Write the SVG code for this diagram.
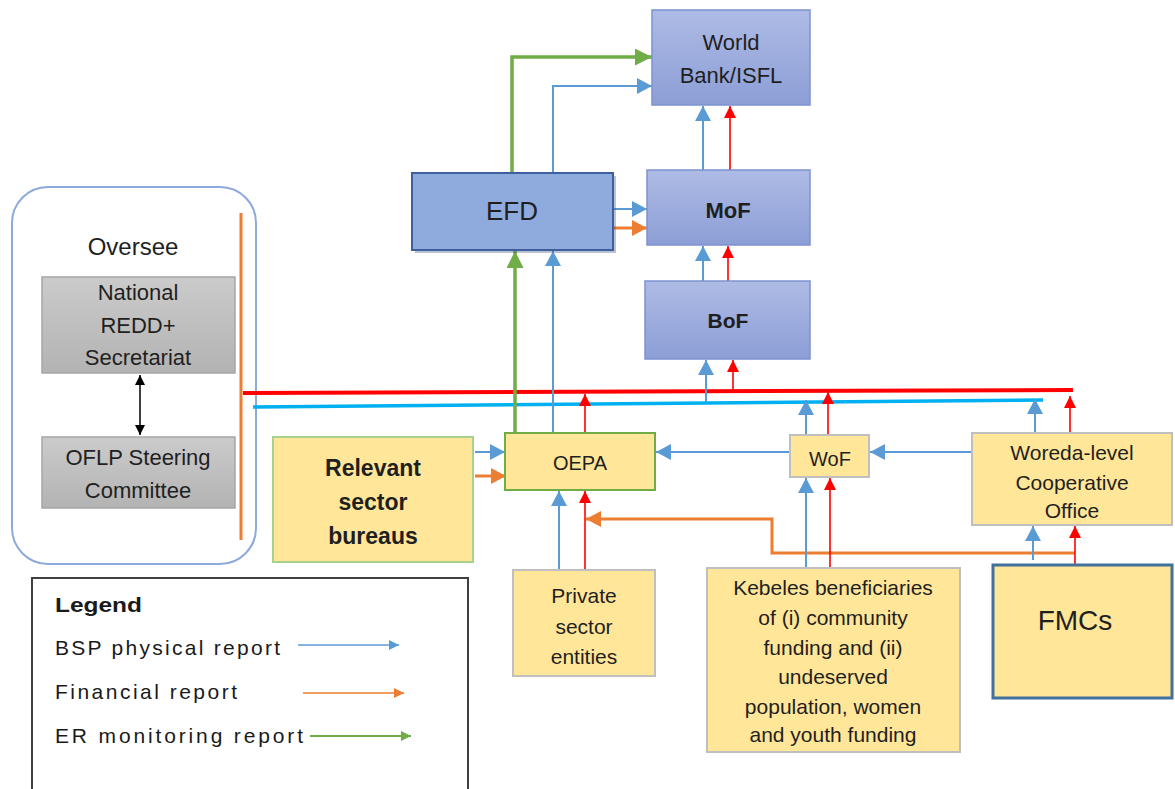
<svg xmlns="http://www.w3.org/2000/svg" width="1175" height="789" viewBox="0 0 1175 789">
  <style>
    text { font-family: "Liberation Sans", Arial, sans-serif; fill: #1f1f1f; text-anchor: middle; }
    .blueBox { fill: url(#gBlue); stroke: #7C92D0; stroke-width: 1.5; }
    .greyBox { fill: url(#gGrey); stroke: #A6A6A6; stroke-width: 1.5; }
    .yellow { fill: #FFE699; stroke: #BFBFBF; stroke-width: 2; }
    .b { fill: none; stroke: #5B9BD5; stroke-width: 2; marker-end: url(#aBlue); }
    .r { fill: none; stroke: #FF0000; stroke-width: 1.6; marker-end: url(#aRed); }
    .o { fill: none; stroke: #ED7D31; stroke-width: 3; marker-end: url(#aOrange); }
    .g { fill: none; stroke: #70AD47; stroke-width: 3.5; marker-end: url(#aGreen); }
    .leg { text-anchor: start; fill: #1a1a1a; font-size: 21px; }
  </style>
  <defs>
    <linearGradient id="gBlue" x1="0" y1="0" x2="0" y2="1">
      <stop offset="0" stop-color="#AEBBE5"/>
      <stop offset="1" stop-color="#8C9ED6"/>
    </linearGradient>
    <linearGradient id="gGrey" x1="0" y1="0" x2="0" y2="1">
      <stop offset="0" stop-color="#CBCBCB"/>
      <stop offset="1" stop-color="#B3B3B3"/>
    </linearGradient>
    <marker id="aBlue" markerUnits="userSpaceOnUse" markerWidth="16" markerHeight="16" refX="15" refY="8" orient="auto">
      <path d="M0,0 L15,8 L0,16 z" fill="#5B9BD5"/>
    </marker>
    <marker id="aRed" markerUnits="userSpaceOnUse" markerWidth="13" markerHeight="12" refX="12" refY="6" orient="auto">
      <path d="M0,0 L12,6 L0,12 z" fill="#FF0000"/>
    </marker>
    <marker id="aOrange" markerUnits="userSpaceOnUse" markerWidth="16" markerHeight="16" refX="15" refY="8" orient="auto">
      <path d="M0,0 L15,8 L0,16 z" fill="#ED7D31"/>
    </marker>
    <marker id="aGreen" markerUnits="userSpaceOnUse" markerWidth="18" markerHeight="17" refX="17" refY="8.5" orient="auto">
      <path d="M0,0 L17,8.5 L0,17 z" fill="#70AD47"/>
    </marker>
    <marker id="aBlack" markerUnits="userSpaceOnUse" markerWidth="11" markerHeight="10" refX="10" refY="5" orient="auto-start-reverse">
      <path d="M0,0 L10,5 L0,10 z" fill="#000"/>
    </marker>
    <marker id="lBlue" markerUnits="userSpaceOnUse" markerWidth="11" markerHeight="10" refX="10" refY="5" orient="auto">
      <path d="M0,0 L10,5 L0,10 z" fill="#5B9BD5"/>
    </marker>
    <marker id="lOrange" markerUnits="userSpaceOnUse" markerWidth="11" markerHeight="10" refX="10" refY="5" orient="auto">
      <path d="M0,0 L10,5 L0,10 z" fill="#ED7D31"/>
    </marker>
    <marker id="lGreen" markerUnits="userSpaceOnUse" markerWidth="11" markerHeight="10" refX="10" refY="5" orient="auto">
      <path d="M0,0 L10,5 L0,10 z" fill="#70AD47"/>
    </marker>
  </defs>

  <rect width="1175" height="789" fill="#FFFFFF"/>

  <!-- oversight panel -->
  <g id="oversee">
    <rect x="12" y="187" width="244" height="377" rx="36" ry="36" fill="#FFFFFF" stroke="#8EA9DB" stroke-width="2"/>
    <text x="133" y="255" font-size="24" fill="#404040">Oversee</text>
  </g>
  <g id="redd-secretariat">
    <rect class="greyBox" x="42" y="277" width="193" height="96"/>
    <text x="138" y="300" font-size="22" fill="#404040">National</text>
    <text x="138" y="333" font-size="22" fill="#404040">REDD+</text>
    <text x="138" y="365" font-size="22" fill="#404040">Secretariat</text>
  </g>
  <g id="oflp-steering">
    <rect class="greyBox" x="42" y="437" width="193" height="71"/>
    <text x="138" y="465" font-size="22" fill="#404040">OFLP Steering</text>
    <text x="138" y="498" font-size="22" fill="#404040">Committee</text>
  </g>

  <!-- reporting connectors -->
  <g id="connectors">
    <line x1="140" y1="375" x2="140" y2="435" stroke="#000" stroke-width="1.5" marker-start="url(#aBlack)" marker-end="url(#aBlack)"/>

    <!-- buses -->
    <line x1="241" y1="213" x2="241" y2="540" stroke="#ED7D31" stroke-width="3"/>
    <line x1="243" y1="393" x2="1073" y2="390" stroke="#FF0000" stroke-width="4"/>
    <line x1="253" y1="407" x2="1043" y2="400" stroke="#00B0F0" stroke-width="3.5"/>

    <!-- EFD to World Bank -->
    <polyline class="g" points="512,173 512,57 652,57"/>
    <polyline class="b" points="553,173 553,86 652,86"/>
    <!-- MoF to World Bank -->
    <line class="b" x1="703" y1="170" x2="703" y2="106"/>
    <line class="r" x1="730" y1="170" x2="730" y2="106"/>
    <!-- EFD to MoF -->
    <line class="b" x1="613" y1="209" x2="647" y2="209"/>
    <line class="o" x1="613" y1="228" x2="647" y2="228"/>
    <!-- BoF to MoF -->
    <line class="b" x1="703" y1="281" x2="703" y2="246"/>
    <line class="r" x1="728" y1="281" x2="728" y2="246"/>
    <!-- buses to BoF -->
    <line class="b" x1="706" y1="402" x2="706" y2="360"/>
    <line class="r" x1="733" y1="391" x2="733" y2="360"/>

    <!-- OEPA to EFD and bus -->
    <line class="g" x1="515" y1="433" x2="515" y2="251"/>
    <line class="b" x1="553" y1="433" x2="553" y2="251"/>
    <line class="r" x1="585" y1="433" x2="585" y2="394"/>
    <!-- sector bureaus to OEPA -->
    <line class="b" x1="475" y1="452" x2="505" y2="452"/>
    <line class="o" x1="475" y1="476" x2="506" y2="476"/>
    <!-- private sector to OEPA -->
    <line class="b" x1="559" y1="569" x2="559" y2="491"/>
    <line class="r" x1="585" y1="570" x2="585" y2="491"/>
    <!-- FMC financial report to OEPA -->
    <polyline class="o" points="1075,553 772,553 772,519 586,519"/>

    <!-- WoF -->
    <line class="b" x1="790" y1="452" x2="656" y2="452"/>
    <line class="b" x1="972" y1="452" x2="870" y2="452"/>
    <line class="b" x1="806" y1="435" x2="806" y2="400"/>
    <line class="r" x1="828" y1="435" x2="828" y2="392"/>
    <line class="b" x1="806" y1="568" x2="806" y2="478"/>
    <line class="r" x1="830" y1="568" x2="830" y2="478"/>

    <!-- Woreda cooperative office -->
    <line class="b" x1="1035" y1="433" x2="1035" y2="399"/>
    <line class="r" x1="1070" y1="433" x2="1070" y2="396"/>
    <line class="b" x1="1033" y1="560" x2="1033" y2="526"/>
    <line class="r" x1="1075" y1="565" x2="1075" y2="526"/>
  </g>

  <!-- federal level -->
  <g id="world-bank">
    <rect class="blueBox" x="652" y="10" width="158" height="95"/>
    <text x="731" y="50" font-size="22">World</text>
    <text x="731" y="83" font-size="22">Bank/ISFL</text>
  </g>
  <g id="efd">
    <rect x="415" y="176" width="201" height="77" fill="#3B4F7A" opacity="0.35"/>
    <rect x="412" y="173" width="201" height="77" fill="#8FAADC" stroke="#3F5E9E" stroke-width="2"/>
    <text x="512" y="220" font-size="26" fill="#111">EFD</text>
  </g>
  <g id="mof">
    <rect class="blueBox" x="647" y="170" width="163" height="75"/>
    <text x="728" y="218" font-size="22" font-weight="bold" fill="#111">MoF</text>
  </g>
  <g id="bof">
    <rect class="blueBox" x="645" y="281" width="165" height="78"/>
    <text x="728" y="328" font-size="21" font-weight="bold" fill="#111">BoF</text>
  </g>

  <!-- regional and woreda level -->
  <g id="sector-bureaus">
    <rect x="273" y="437" width="200" height="125" fill="#FFE699" stroke="#A9D18E" stroke-width="2"/>
    <text x="373" y="476" font-size="23" font-weight="bold" fill="#000">Relevant</text>
    <text x="373" y="510" font-size="23" font-weight="bold" fill="#000">sector</text>
    <text x="373" y="544" font-size="23" font-weight="bold" fill="#000">bureaus</text>
  </g>
  <g id="oepa">
    <rect x="505" y="433" width="150" height="57" fill="#FFE699" stroke="#70AD47" stroke-width="2"/>
    <text x="580" y="470" font-size="20">OEPA</text>
  </g>
  <g id="wof">
    <rect class="yellow" x="790" y="435" width="79" height="42"/>
    <text x="830" y="466" font-size="20">WoF</text>
  </g>
  <g id="woreda-cooperative">
    <rect class="yellow" x="972" y="433" width="200" height="92"/>
    <text x="1072" y="460" font-size="21">Woreda-level</text>
    <text x="1072" y="490" font-size="21">Cooperative</text>
    <text x="1072" y="518" font-size="21">Office</text>
  </g>
  <g id="private-sector">
    <rect class="yellow" x="513" y="570" width="142" height="106"/>
    <text x="584" y="603" font-size="21">Private</text>
    <text x="584" y="634" font-size="21">sector</text>
    <text x="584" y="664" font-size="21">entities</text>
  </g>
  <g id="kebeles">
    <rect class="yellow" x="707" y="568" width="253" height="184"/>
    <text x="833" y="595" font-size="21">Kebeles beneficiaries</text>
    <text x="833" y="625" font-size="21">of (i) community</text>
    <text x="833" y="655" font-size="21">funding and (ii)</text>
    <text x="833" y="684" font-size="21">undeserved</text>
    <text x="833" y="714" font-size="21">population, women</text>
    <text x="833" y="742" font-size="21">and youth funding</text>
  </g>
  <g id="fmcs">
    <rect x="993" y="565" width="179" height="133" fill="#FFE699" stroke="#41719C" stroke-width="3"/>
    <text x="1075" y="630" font-size="28" fill="#111">FMCs</text>
  </g>

  <!-- legend -->
  <g id="legend">
    <rect x="32" y="578" width="436" height="230" fill="#FFFFFF" stroke="#404040" stroke-width="2"/>
    <text class="leg" x="55" y="612" font-size="19" font-weight="bold" textLength="87" lengthAdjust="spacingAndGlyphs">Legend</text>
    <text class="leg" x="55" y="655" textLength="225" lengthAdjust="spacing">BSP physical report</text>
    <text class="leg" x="55" y="699" textLength="182" lengthAdjust="spacing">Financial report</text>
    <text class="leg" x="55" y="743" textLength="248" lengthAdjust="spacing">ER monitoring report</text>
    <line x1="298" y1="645" x2="399" y2="645" stroke="#5B9BD5" stroke-width="1.5" marker-end="url(#lBlue)"/>
    <line x1="303" y1="693" x2="404" y2="693" stroke="#ED7D31" stroke-width="1.5" marker-end="url(#lOrange)"/>
    <line x1="310" y1="736" x2="411" y2="736" stroke="#70AD47" stroke-width="2" marker-end="url(#lGreen)"/>
  </g>
</svg>
